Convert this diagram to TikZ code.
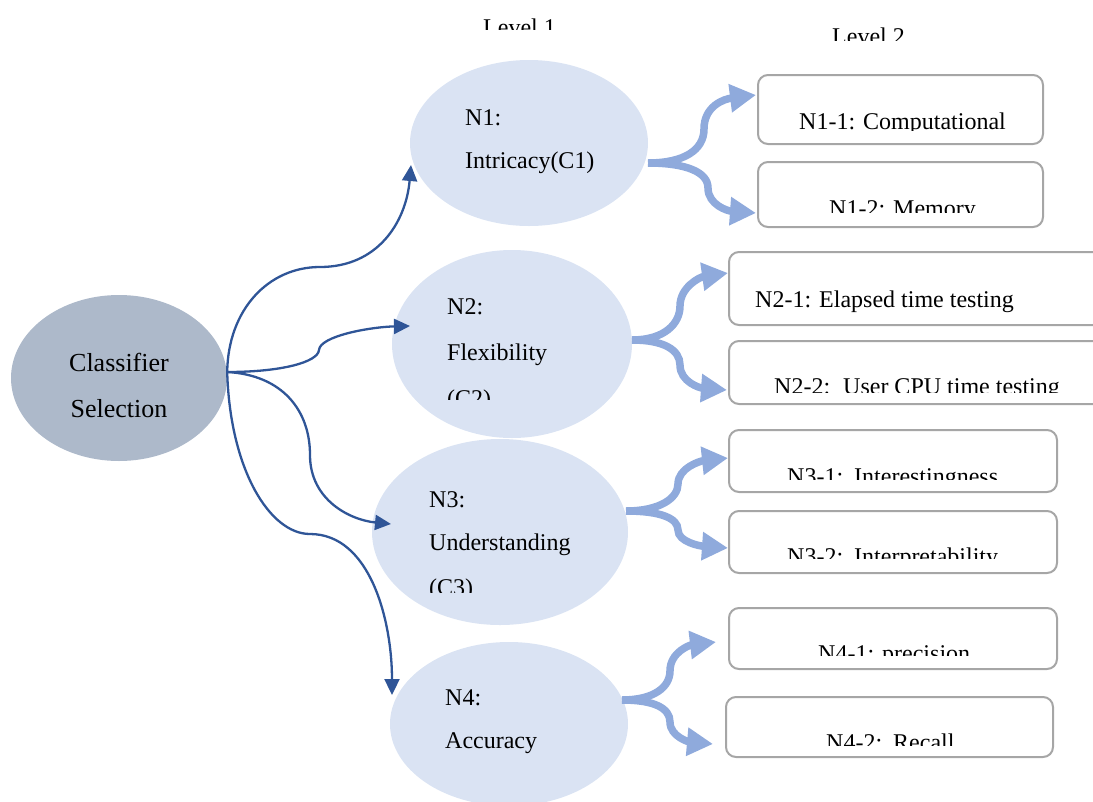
\documentclass[tikz,border=0pt]{standalone}
\usepackage{fontspec}
\setmainfont{Liberation Serif}
\usetikzlibrary{shapes.geometric,arrows.meta}
\definecolor{dblue}{HTML}{2F5597}
\definecolor{lblue}{HTML}{8FAADC}
\definecolor{efill}{HTML}{DAE3F3}
\definecolor{cfill}{HTML}{ADB9CA}
\definecolor{bgray}{HTML}{A6A6A6}
\tikzset{
  ell/.style={ellipse,fill=efill,draw=none,inner sep=0pt},
  boxst/.style={rectangle,rounded corners=10pt,draw=bgray,line width=2pt,fill=white,inner sep=0pt},
  txt/.style={inner sep=0pt,anchor=base west,font=\fontsize{24}{24}\selectfont},
  ctxt/.style={inner sep=0pt,anchor=base,font=\fontsize{26}{26}\selectfont},
  darr/.style={draw=dblue,line width=2.3pt,-{Triangle[length=16pt,width=15pt]}},
  larr/.style={draw=lblue,line width=7.5pt,-{Triangle[length=26pt,width=27pt]}}
}
\begin{document}
\begin{tikzpicture}[x=1pt,y=-1pt]
\useasboundingbox (0,0) rectangle (1093,801);
\clip (0,0) rectangle (1093,801);
% ellipses
\node[ellipse,fill=cfill,inner sep=0pt,minimum width=216pt,minimum height=166pt] (c) at (119,378) {};
\node[ell,minimum width=238pt,minimum height=166pt] (n1) at (529,143) {};
\node[ell,minimum width=240pt,minimum height=188pt] (n2) at (512,344) {};
\node[ell,minimum width=256pt,minimum height=186pt] (n3) at (500,532) {};
\node[ell,minimum width=238pt,minimum height=164pt] (n4) at (509,724) {};
% boxes
\node[boxst,minimum width=285pt,minimum height=69pt] (b11) at (900.5,109.5) {};
\node[boxst,minimum width=285pt,minimum height=65pt] (b12) at (900.5,194.5) {};
\node[boxst,minimum width=374pt,minimum height=73pt] (b21) at (916,288.5) {};
\node[boxst,minimum width=374pt,minimum height=63pt] (b22) at (916,372.5) {};
\node[boxst,minimum width=328pt,minimum height=62pt] (b31) at (893,461) {};
\node[boxst,minimum width=328pt,minimum height=62pt] (b32) at (893,542) {};
\node[boxst,minimum width=328pt,minimum height=61pt] (b41) at (893,638.5) {};
\node[boxst,minimum width=327pt,minimum height=60pt] (b42) at (889.5,727) {};
% connector end points
\coordinate (cs) at ([yshift=6pt]c.east);
\coordinate (t1) at (411,165);
\coordinate (t2) at (410,326);
\coordinate (t3) at (391,524);
\coordinate (t4) at (392,695);
\coordinate (s1) at (648,163);
\coordinate (s2) at (632,340);
\coordinate (s3) at (626,511);
\coordinate (s4) at (622,700);
\coordinate (u1) at (756,95);  \coordinate (d1) at (756,213);
\coordinate (u2) at (728,273); \coordinate (d2) at (727,390);
\coordinate (u3) at (728,458); \coordinate (d3) at (728,548);
\coordinate (u4) at (716,642); \coordinate (d4) at (713,744);
% dark blue connectors
\draw[darr] (cs) .. controls (228,310) and (268,267) .. (320,267) .. controls (378,267) and (406,222) .. (t1);
\draw[darr] (cs) .. controls (282,372) and (318,362) .. (319,350) .. controls (320,336) and (370,327) .. (t2);
\draw[darr] (cs) .. controls (282,375) and (310,410) .. (310,455) .. controls (310,500) and (350,520) .. (t3);
\draw[darr] (cs) .. controls (230,470) and (270,534) .. (310,534) .. controls (370,534) and (392,620) .. (t4);
% light blue branching arrows
\draw[larr] (s1) .. controls (684,163) and (704,150) .. (704,129) .. controls (704,106) and (724,99) .. (u1);
\draw[larr] (s1) .. controls (686,163) and (708,172) .. (708,188) .. controls (708,205) and (728,211) .. (d1);
\draw[larr] (s2) .. controls (664,340) and (680,324) .. (680,306) .. controls (680,287) and (700,277) .. (u2);
\draw[larr] (s2) .. controls (664,340) and (680,350) .. (680,365) .. controls (680,382) and (700,388) .. (d2);
\draw[larr] (s3) .. controls (660,511) and (678,498) .. (678,484) .. controls (678,468) and (700,461) .. (u3);
\draw[larr] (s3) .. controls (660,511) and (678,518) .. (678,530) .. controls (678,542) and (700,546) .. (d3);
\draw[larr] (s4) .. controls (654,700) and (670,687) .. (670,671) .. controls (670,652) and (690,645) .. (u4);
\draw[larr] (s4) .. controls (654,700) and (670,708) .. (670,722) .. controls (670,737) and (690,742) .. (d4);
% level labels
\begin{scope}\clip (470,0) rectangle (620,29);
\node[txt] (lv1) at (483,35) {Level 1};
\end{scope}
\begin{scope}\clip (820,0) rectangle (960,40);
\node[txt] (lv2) at (832,44) {Level 2};
\end{scope}
% classifier text
\node[ctxt] (ct1) at (119,371) {Classifier};
\node[ctxt] (ct2) at (119,417) {Selection};
% ellipse texts
\node[txt] (n1a) at (465,125) {N1:};
\node[txt] (n1b) at (465,168) {Intricacy(C1)};
\node[txt] (n2a) at (447,314) {N2:};
\node[txt] (n2b) at (447,360) {Flexibility};
\begin{scope}\clip (440,370) rectangle (560,399);
\node[txt] (n2c) at (447,406) {(C2)};
\end{scope}
\node[txt] (n3a) at (429,507) {N3:};
\node[txt] (n3b) at (429,550) {Understanding};
\begin{scope}\clip (420,560) rectangle (560,592);
\node[txt] (n3c) at (429,595) {(C3)};
\end{scope}
\node[txt] (n4a) at (445,705) {N4:};
\node[txt] (n4b) at (445,748) {Accuracy};
% box texts
\begin{scope}\clip (760,90) rectangle (1040,130);
\node[txt] (x11) at (799,129) {N1-1: Computational};
\end{scope}
\begin{scope}\clip (760,180) rectangle (1040,212);
\node[txt] (x12) at (829,216) {N1-2: Memory};
\end{scope}
\node[txt] (x21) at (755,307) {N2-1: Elapsed time testing};
\begin{scope}\clip (735,360) rectangle (1093,392);
\node[txt] (x22) at (774,394) {N2-2:\hspace{13pt}User CPU time testing};
\end{scope}
\begin{scope}\clip (735,445) rectangle (1050,479);
\node[txt] (x31) at (787,484) {N3-1:\hspace{11pt}Interestingness};
\end{scope}
\begin{scope}\clip (735,525) rectangle (1050,558);
\node[txt] (x32) at (787,564) {N3-2:\hspace{11pt}Interpretability};
\end{scope}
\begin{scope}\clip (735,625) rectangle (1050,655);
\node[txt] (x41) at (818,661) {N4-1: precision};
\end{scope}
\begin{scope}\clip (735,712) rectangle (1050,745);
\node[txt] (x42) at (826,750) {N4-2:\hspace{11pt}Recall};
\end{scope}
\end{tikzpicture}
\end{document}
